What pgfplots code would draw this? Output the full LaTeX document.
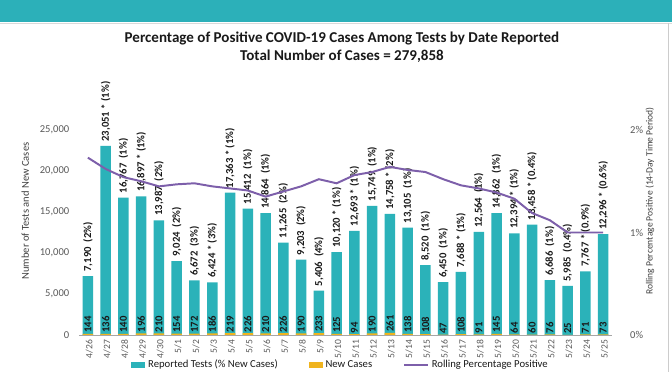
\documentclass[border=0pt]{standalone}
\usepackage{fontspec}
\setmainfont{Carlito}
\usepackage{pgfplots}
\pgfplotsset{compat=1.18}
\definecolor{banner}{RGB}{44,176,185}
\definecolor{tealbar}{RGB}{43,178,185}
\definecolor{orangebar}{RGB}{240,180,30}
\definecolor{rollline}{RGB}{125,95,170}
\definecolor{ticktext}{RGB}{89,89,89}
\definecolor{axisgray}{RGB}{166,166,166}
\begin{document}
\begin{tikzpicture}
\path[use as bounding box] (0,0) rectangle (16.8,9.3);
\fill[banner] (0,8.75) rectangle (16.8,9.3);
\draw[gray!30, line width=0.6pt] (0,8.72) -- (16.8,8.72);
\draw[gray!40, line width=0.5pt] (16.7,0) -- (16.7,8.72);
\node[font=\fontsize{10.7}{12}\selectfont\bfseries, text=black!90] at (8.55,8.35) {Percentage of Positive COVID-19 Cases Among Tests by Date Reported};
\node[font=\fontsize{10.7}{12}\selectfont\bfseries, text=black!90] at (8.55,7.9) {Total Number of Cases = 279,858};
\begin{axis}[
  at={(1.975cm,0.925cm)}, anchor=south west,
  scale only axis, width=13.325cm, height=5.6375cm,
  xmin=-0.5, xmax=29.5, ymin=0, ymax=27500,
  axis x line*=bottom, axis y line*=left,
  x axis line style={draw=axisgray, line width=0.6pt},
  y axis line style={draw=none},
  major tick length=0pt,
  clip=false,
  xtick={0,...,29},
  xticklabels={4/26,4/27,4/28,4/29,4/30,5/1,5/2,5/3,5/4,5/5,5/6,5/7,5/8,5/9,5/10,5/11,5/12,5/13,5/14,5/15,5/16,5/17,5/18,5/19,5/20,5/21,5/22,5/23,5/24,5/25},
  xticklabel style={rotate=90, anchor=east, font=\fontsize{6.8}{8}\selectfont, text=ticktext, yshift=-1pt},
  ytick={0,5000,10000,15000,20000,25000},
  scaled y ticks=false,
  /pgf/number format/.cd, 1000 sep={,}, assume math mode=true, /pgfplots/.cd,
  yticklabel style={font=\fontsize{7.5}{9}\selectfont, text=ticktext, xshift=-1.2mm},
  ylabel={Number of Tests and New Cases},
  ylabel style={at={(axis description cs:-0.101,0.55)}, anchor=center, font=\fontsize{7.5}{9}\selectfont, text=black!75},
  legend columns=3,
  legend style={at={(0.095,-0.133)}, anchor=west, draw=none, fill=none, inner sep=1pt, font=\fontsize{7.6}{8}\selectfont, text=black!90, /tikz/every even column/.append style={column sep=0.7cm}},
]
\addplot[ybar, bar width=0.2625cm, bar shift=0pt, fill=tealbar, draw=none,
  legend image code/.code={\fill[tealbar] (0cm,-0.07cm) rectangle (0.35cm,0.07cm);},
  point meta=explicit symbolic, nodes near coords,
  nodes near coords style={rotate=90, anchor=west, inner sep=3pt, font=\fontsize{7.6}{9}\selectfont\bfseries, text=black!90}]
coordinates {
(0,7190) [7,190\ \ (2\%)]
(1,23051) [23,051 * (1\%)]
(2,16767) [16,767\ \ (1\%)]
(3,16897) [16,897 * (1\%)]
(4,13987) [13,987\ \ (2\%)]
(5,9024) [9,024\ \ (2\%)]
(6,6672) [6,672\ \ (3\%)]
(7,6424) [6,424 * (3\%)]
(8,17363) [17,363 * (1\%)]
(9,15412) [15,412\ \ (1\%)]
(10,14864) [14,864\ \ (1\%)]
(11,11265) [11,265\ \ (2\%)]
(12,9203) [9,203\ \ (2\%)]
(13,5406) [5,406\ \ (4\%)]
(14,10120) [10,120 * (1\%)]
(15,12693) [12,693 * (1\%)]
(16,15749) [15,749\ \ (1\%)]
(17,14758) [14,758 * (2\%)]
(18,13105) [13,105\ \ (1\%)]
(19,8520) [8,520\ \ (1\%)]
(20,6450) [6,450\ \ (1\%)]
(21,7688) [7,688 * (1\%)]
(22,12564) [12,564\ \ (1\%)]
(23,14862) [14,862\ \ (1\%)]
(24,12394) [12,394 * (1\%)]
(25,13458) [13,458 * (0.4\%)]
(26,6686) [6,686\ \ (1\%)]
(27,5985) [5,985\ \ (0.4\%)]
(28,7767) [7,767 * (0.9\%)]
(29,12296) [12,296 * (0.6\%)]
};
\addlegendentry{Reported Tests (\% New Cases)}
\addplot[ybar, bar width=0.2625cm, bar shift=0pt, fill=orangebar, draw=none,
  legend image code/.code={\fill[orangebar] (0cm,-0.07cm) rectangle (0.35cm,0.07cm);},
  point meta=y, nodes near coords,
  nodes near coords style={rotate=90, anchor=west, inner sep=0.6pt, font=\fontsize{7.6}{9}\selectfont\bfseries, text=black!90}]
coordinates {
(0,144) (1,136) (2,140) (3,196) (4,210) (5,154) (6,172) (7,186) (8,219) (9,226)
(10,210) (11,226) (12,190) (13,233) (14,125) (15,94) (16,190) (17,261) (18,138) (19,108)
(20,47) (21,108) (22,91) (23,145) (24,64) (25,60) (26,76) (27,25) (28,71) (29,73)
};
\addlegendentry{New Cases}
\addlegendimage{rollline, line width=1.4pt, legend image code/.code={\draw[rollline, line width=1.4pt] (0cm,0cm) -- (0.6cm,0cm);}}
\addlegendentry{Rolling Percentage Positive}
\end{axis}
\begin{axis}[
  at={(1.975cm,0.925cm)}, anchor=south west,
  scale only axis, width=13.325cm, height=5.6375cm,
  xmin=-0.5, xmax=29.5, ymin=0, ymax=2.2,
  axis x line=none, axis y line*=right,
  y axis line style={draw=none},
  major tick length=0pt,
  clip=false,
  ytick={0,1,2}, yticklabels={0\%,1\%,2\%},
  yticklabel style={anchor=west, font=\fontsize{7.5}{9}\selectfont, text=ticktext, xshift=3.3mm},
]
\addplot[rollline, line width=1.4pt, mark=none] coordinates {
(0,1.73) (1,1.62) (2,1.54) (3,1.50) (4,1.45) (5,1.47) (6,1.48) (7,1.45) (8,1.43) (9,1.41)
(10,1.35) (11,1.40) (12,1.45) (13,1.52) (14,1.48) (15,1.56) (16,1.59) (17,1.64) (18,1.61) (19,1.59)
(20,1.52) (21,1.46) (22,1.43) (23,1.39) (24,1.33) (25,1.19) (26,1.12) (27,1.00) (28,1.00) (29,1.00)
};
\end{axis}
\node[rotate=90, font=\fontsize{6.8}{8}\selectfont, text=black!75] at (16.25,4.275) {Rolling Percentage Positive (14-Day Time Period)};
\end{tikzpicture}
\end{document}
